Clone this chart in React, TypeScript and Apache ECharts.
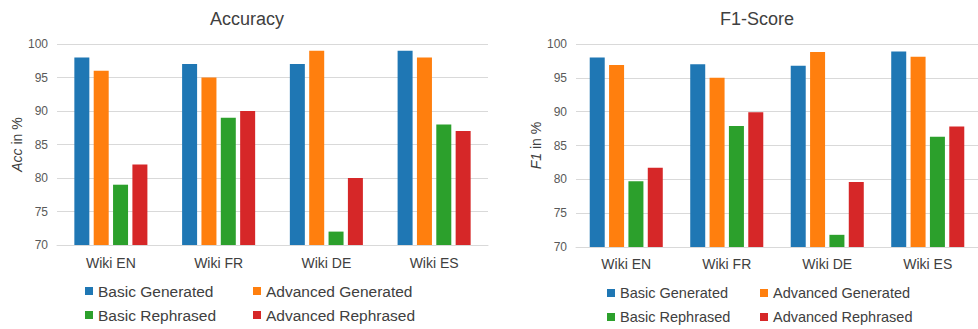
import React, { useEffect, useRef } from "react";
import * as echarts from "echarts";

const categories = ["Wiki EN", "Wiki FR", "Wiki DE", "Wiki ES"];
const seriesNames = ["Basic Generated", "Advanced Generated", "Basic Rephrased", "Advanced Rephrased"];
const colors = ["#1f77b4", "#ff7f0e", "#2ca02c", "#d62728"];

const accBasicGenerated = [98, 97, 97, 99];
const accAdvancedGenerated = [96, 95, 99, 98];
const accBasicRephrased = [79, 89, 72, 88];
const accAdvancedRephrased = [82, 90, 80, 87];

const f1BasicGenerated = [98, 97, 96.8, 98.9];
const f1AdvancedGenerated = [96.9, 95, 98.8, 98.1];
const f1BasicRephrased = [79.7, 87.9, 71.8, 86.3];
const f1AdvancedRephrased = [81.7, 89.9, 79.6, 87.8];

const yTicksMin = 70;
const yTicksMax = 100;
const yTicksStep = 5;

const FONT = "'Liberation Sans', Arial, sans-serif";

export default function App() {
  const ref = useRef<HTMLDivElement>(null);

  useEffect(() => {
    if (!ref.current) return;
    const chart = echarts.init(ref.current, undefined, { renderer: "svg" });

    const accData = [accBasicGenerated, accAdvancedGenerated, accBasicRephrased, accAdvancedRephrased];
    const f1Data = [f1BasicGenerated, f1AdvancedGenerated, f1BasicRephrased, f1AdvancedRephrased];

    const grids = [
      { left: 57, top: 44, width: 431, height: 201 },
      { left: 576, top: 44, width: 414, height: 203 },
    ];

    const xAxes = grids.map((_, i) => ({
      type: "category",
      gridIndex: i,
      data: categories,
      axisTick: { show: false },
      axisLine: { show: true, lineStyle: { color: "#d9d9d9", width: 1 } },
      axisLabel: {
        color: "#404040",
        fontSize: 14,
        fontFamily: FONT,
        margin: i === 0 ? 11 : 10,
      },
    }));

    const yNames = ["{i|Acc} in %", "{i|F1} in %"];
    const yAxes = grids.map((_, i) => ({
      type: "value",
      gridIndex: i,
      min: yTicksMin,
      max: yTicksMax,
      interval: yTicksStep,
      name: yNames[i],
      nameLocation: "middle",
      nameRotate: 90,
      nameGap: 30,
      nameTextStyle: {
        color: "#404040",
        fontSize: 14,
        fontFamily: FONT,
        rich: { i: { fontStyle: "italic", fontSize: 14, color: "#404040", fontFamily: FONT } },
      },
      axisLine: { show: false },
      axisTick: { show: false },
      axisLabel: { color: "#595959", fontSize: 12, fontFamily: FONT, margin: 9 },
      splitLine: { show: true, lineStyle: { color: "#d9d9d9", width: 1 } },
    }));

    const series: any[] = [];
    [accData, f1Data].forEach((dataSet, gi) => {
      dataSet.forEach((vals, si) => {
        series.push({
          type: "bar",
          name: seriesNames[si],
          xAxisIndex: gi,
          yAxisIndex: gi,
          data: vals,
          barWidth: 15,
          barGap: "29%",
          itemStyle: { color: colors[si] },
        });
      });
    });

    const legendPos = [
      // left chart
      { left: 85, tops: [283, 307], cols: [85, 253], size: 15.5 },
      { left: 607, tops: [285, 309], cols: [607, 760], size: 14.5 },
    ];
    const legends: any[] = [];
    legendPos.forEach((lp) => {
      seriesNames.forEach((n, si) => {
        const row = Math.floor(si / 2);
        const col = si % 2;
        legends.push({
          data: [n],
          left: lp.cols[col],
          top: lp.tops[row],
          padding: 0,
          itemWidth: 8,
          itemHeight: 8,
          icon: "rect",
          selectedMode: false,
          textStyle: { color: "#404040", fontSize: lp.size, fontFamily: FONT, lineHeight: 16 },
        });
      });
    });

    chart.setOption({
      animation: false,
      backgroundColor: "#ffffff",
      title: [
        {
          text: "Accuracy",
          left: 247,
          top: 10,
          textAlign: "center",
          padding: 0,
          textStyle: { color: "#404040", fontSize: 18, fontWeight: "normal", fontFamily: FONT },
        },
        {
          text: "F1-Score",
          left: 757,
          top: 10,
          textAlign: "center",
          padding: 0,
          textStyle: { color: "#404040", fontSize: 18, fontWeight: "normal", fontFamily: FONT },
        },
      ],
      legend: legends,
      grid: grids,
      xAxis: xAxes,
      yAxis: yAxes,
      series,
    });

    return () => chart.dispose();
  }, []);

  return (
    <div
      ref={ref}
      style={{ position: "fixed", left: 0, top: 0, width: 978, height: 329, background: "#fff" }}
    />
  );
}
